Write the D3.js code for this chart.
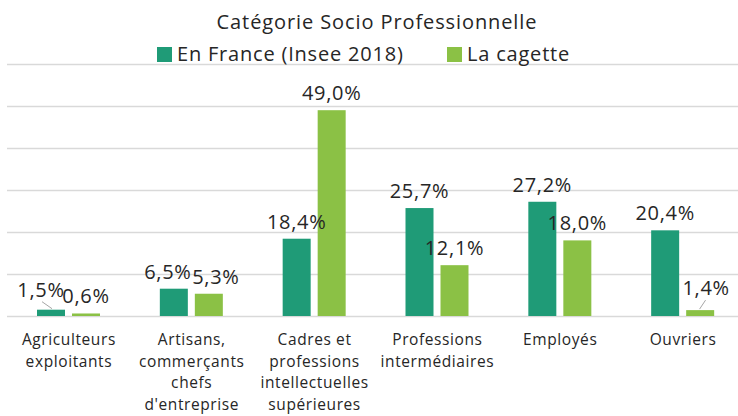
<!DOCTYPE html>
<html>
<head>
    <meta charset='utf-8'>
    <title>Catégorie Socio Professionnelle</title>
    <script src='https://cdn.jsdelivr.net/npm/d3@7'></script>
    <style>
        body { margin: 0; background: #fff; }
        text { font-family: 'Open Sans', sans-serif; fill: #262626; }
    </style>
</head>
<body>
    <svg width='738' height='416'></svg>
    <script>
        // données
        const categories = ['Agriculteurs\nexploitants', 'Artisans,\ncommerçants\nchefs\nd\'entreprise',
            'Cadres et\nprofessions\nintellectuelles\nsupérieures', 'Professions\nintermédiaires', 'Employés', 'Ouvriers']
        const seriesNames = ['En France (Insee 2018)', 'La cagette']
        const franceValues = [1.5, 6.5, 18.4, 25.7, 27.2, 20.4]
        const cagetteValues = [0.6, 5.3, 49.0, 12.1, 18.0, 1.4]
        const yTicks = [0, 10, 20, 30, 40, 50, 60]

        const colors = ['#1f9b77', '#8bc145']
        const svg = d3.select('svg')

        const x0 = d3.scaleBand().domain(categories).range([7.5, 744.5])
        const x1 = d3.scaleBand().domain([0, 1]).range([29.5, 92.5]).paddingInner(0.2)
        const y = d3.scaleLinear().domain([0, 60]).range([316, 64])

        // quadrillage
        svg.append('g')
            .attr('transform', 'translate(7,0)')
            .call(d3.axisLeft(y).tickValues(yTicks).tickSize(-731).tickFormat(''))
            .call(g => g.select('.domain').remove())
            .call(g => g.selectAll('.tick line').attr('stroke', '#d9d9d9').attr('stroke-width', 1.3))

        const rows = categories.map((c, i) => ({ cat: c, vals: [franceValues[i], cagetteValues[i]] }))

        // décalage manuel de quelques étiquettes (comme dans l'original)
        const nudge = { '0-0': [-10, -3], '1-0': [-6, 0], '1-1': [7, 0], '5-1': [6, -5] }
        const leader = { '0-0': true, '5-1': true }

        const groups = svg.selectAll('.cat').data(rows).join('g')
            .attr('class', 'cat')
            .attr('transform', d => `translate(${x0(d.cat)},0)`)

        groups.selectAll('rect').data(d => d.vals).join('rect')
            .attr('x', (d, i) => x1(i))
            .attr('width', x1.bandwidth())
            .attr('y', d => y(d))
            .attr('height', d => y(0) - y(d))
            .attr('fill', (d, i) => colors[i])

        groups.each(function (d, ci) {
            const g = d3.select(this)
            d.vals.forEach((v, si) => {
                const key = ci + '-' + si
                const cx = x1(si) + x1.bandwidth() / 2
                const n = nudge[key] || [0, 0]
                const ty = y(v) - 10 + n[1]
                g.append('text')
                    .attr('x', cx + n[0])
                    .attr('y', ty)
                    .attr('text-anchor', 'middle')
                    .style('font-size', '20px')
                    .style('letter-spacing', '0.7px')
                    .text(d3.format('.1f')(v).replace('.', ',') + '%')
                if (leader[key]) {
                    g.append('line')
                        .attr('x1', cx + n[0] * 0.9)
                        .attr('y1', ty + 5)
                        .attr('x2', cx - n[0] * 0.1)
                        .attr('y2', y(v) - 1)
                        .attr('stroke', '#a6a6a6')
                        .attr('stroke-width', 1)
                }
            })
        })

        // étiquettes des catégories
        groups.append('text')
            .attr('text-anchor', 'middle')
            .style('font-size', '15.5px')
            .style('letter-spacing', '0.6px')
            .selectAll('tspan').data(d => d.cat.split('\n')).join('tspan')
            .attr('x', x0.bandwidth() / 2)
            .attr('y', (d, i) => 345 + i * 21.5)
            .text(d => d)

        // titre
        svg.append('text')
            .attr('x', 377).attr('y', 29)
            .attr('text-anchor', 'middle')
            .style('font-size', '20px')
            .style('letter-spacing', '0.9px')
            .text('Catégorie Socio Professionnelle')

        // légende
        const legendX = [157, 447]
        const leg = svg.selectAll('.leg').data(seriesNames).join('g')
            .attr('class', 'leg')
            .attr('transform', (d, i) => `translate(${legendX[i]},0)`)
        leg.append('rect').attr('x', 0).attr('y', 47).attr('width', 15).attr('height', 15)
            .attr('fill', (d, i) => colors[i])
        leg.append('text').attr('x', 20).attr('y', 61)
            .style('font-size', '20px')
            .style('letter-spacing', '0.8px')
            .text(d => d)
    </script>
</body>
</html>
